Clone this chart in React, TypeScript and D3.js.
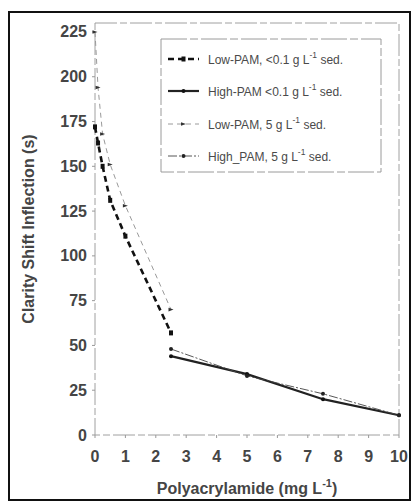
import React from "react";
import * as d3 from "d3";

// Polyacrylamide dose (mg L-1) and clarity shift inflection time (s)
const lowDoses = [0, 0.1, 0.25, 0.5, 1, 2.5];
const highDoses = [2.5, 5, 7.5, 10];
const lowPamClear = [172, 163, 150, 131, 111, 57];
const highPamClear = [44, 34, 20, 11];
const lowPamSed = [225, 194, 168, 151, 128, 70];
const highPamSed = [48, 33, 23, 11];

const xTicks = [0, 1, 2, 3, 4, 5, 6, 7, 8, 9, 10];
const yTicks = [0, 25, 50, 75, 100, 125, 150, 175, 200, 225];

type Series = {
  name: string;
  conc: string;
  xs: number[];
  ys: number[];
  stroke: string;
  width: number;
  dash: string | undefined;
  marker: "square" | "dot" | "tri";
  markerColor: string;
};

const series: Series[] = [
  { name: "Low-PAM, <0.1 g L", conc: "", xs: lowDoses, ys: lowPamClear, stroke: "#111", width: 2.6, dash: "6 4", marker: "square", markerColor: "#111" },
  { name: "High-PAM <0.1 g L", conc: "", xs: highDoses, ys: highPamClear, stroke: "#222", width: 2.2, dash: undefined, marker: "dot", markerColor: "#111" },
  { name: "Low-PAM, 5 g L", conc: "", xs: lowDoses, ys: lowPamSed, stroke: "#9a9a9a", width: 1, dash: "5 4", marker: "tri", markerColor: "#333" },
  { name: "High_PAM, 5 g L", conc: "", xs: highDoses, ys: highPamSed, stroke: "#444", width: 0.9, dash: "9 2 2 2", marker: "dot", markerColor: "#222" },
];

const FONT = "'Liberation Sans', Arial, sans-serif";

export default function App() {
  const x = d3.scaleLinear().domain([0, 10]).range([95, 399]);
  const y = d3.scaleLinear().domain([0, 230]).range([435, 23]);

  const line = d3
    .line<[number, number]>()
    .x((d) => x(d[0]))
    .y((d) => y(d[1]));

  const marker = (s: Series, cx: number, cy: number, key: string) => {
    if (s.marker === "square")
      return <rect key={key} x={cx - 2} y={cy - 2.5} width={4} height={5} fill={s.markerColor} />;
    if (s.marker === "tri")
      return <path key={key} d={`M${cx - 2.5},${cy - 1.8}L${cx + 2.5},${cy}L${cx - 2.5},${cy + 1.8}Z`} fill={s.markerColor} />;
    return <circle key={key} cx={cx} cy={cy} r={2} fill={s.markerColor} />;
  };

  const legendRows = [59, 91, 124, 156];

  return (
    <svg
      width={412}
      height={502}
      style={{ position: "absolute", left: 0, top: 0, background: "#fff" }}
      fontFamily={FONT}
    >
      {/* outer frame */}
      <rect x={9} y={12} width={401} height={488} fill="none" stroke="#111" strokeWidth={2} />

      {/* plot box */}
      <rect
        x={x(0)}
        y={y(230)}
        width={x(10) - x(0)}
        height={y(0) - y(230)}
        fill="none"
        stroke="#a0a0a0"
        strokeWidth={1}
        strokeDasharray="22 3 7 3"
      />

      {/* y ticks */}
      {yTicks.map((t) => (
        <g key={"y" + t}>
          <line x1={x(0) - 3} x2={x(0)} y1={y(t)} y2={y(t)} stroke="#999" strokeWidth={1} />
          <text
            x={87}
            y={y(t) + 5.5}
            textAnchor="end"
            fontSize={16}
            fontWeight={700}
            fill="#454545"
          >
            {t}
          </text>
        </g>
      ))}

      {/* x ticks */}
      {xTicks.map((t) => (
        <g key={"x" + t}>
          <line x1={x(t)} x2={x(t)} y1={y(0)} y2={y(0) + 3} stroke="#999" strokeWidth={1} />
          <text x={x(t)} y={462} textAnchor="middle" fontSize={16} fontWeight={700} fill="#454545">
            {t}
          </text>
        </g>
      ))}

      {/* axis titles */}
      <text
        transform={`translate(34,229) rotate(-90)`}
        textAnchor="middle"
        fontSize={16}
        fontWeight={700}
        fill="#454545"
      >
        Clarity Shift Inflection (s)
      </text>
      <text x={247} y={494} textAnchor="middle" fontSize={16} fontWeight={700} fill="#454545">
        Polyacrylamide (mg L
        <tspan dy={-7} fontSize={11}>-1</tspan>
        <tspan dy={7}>)</tspan>
      </text>

      {/* series lines */}
      {series.map((s, i) => {
        const pts = s.xs.map((v, j) => [v, s.ys[j]] as [number, number]);
        return (
          <g key={"s" + i}>
            <path
              d={line(pts) || ""}
              fill="none"
              stroke={s.stroke}
              strokeWidth={s.width}
              strokeDasharray={s.dash}
            />
            {pts.map((p, j) => marker(s, x(p[0]), y(p[1]), `m${i}-${j}`))}
          </g>
        );
      })}

      {/* legend */}
      <rect
        x={161}
        y={39}
        width={220}
        height={133}
        fill="#fff"
        stroke="#9a9a9a"
        strokeWidth={1}
        strokeDasharray="26 3 8 3"
      />
      {series.map((s, i) => {
        const ly = legendRows[i];
        return (
          <g key={"l" + i}>
            <line
              x1={168}
              x2={199}
              y1={ly}
              y2={ly}
              stroke={s.stroke}
              strokeWidth={s.width}
              strokeDasharray={s.dash}
            />
            {marker(s, 183.5, ly, "lm" + i)}
            <text x={208} y={ly + 4.5} fontSize={12} fill="#4a4a4a">
              {s.name}
              <tspan dy={-6} fontSize={8.5}>-1</tspan>
              <tspan dy={6}>{"  sed."}</tspan>
            </text>
          </g>
        );
      })}
    </svg>
  );
}
